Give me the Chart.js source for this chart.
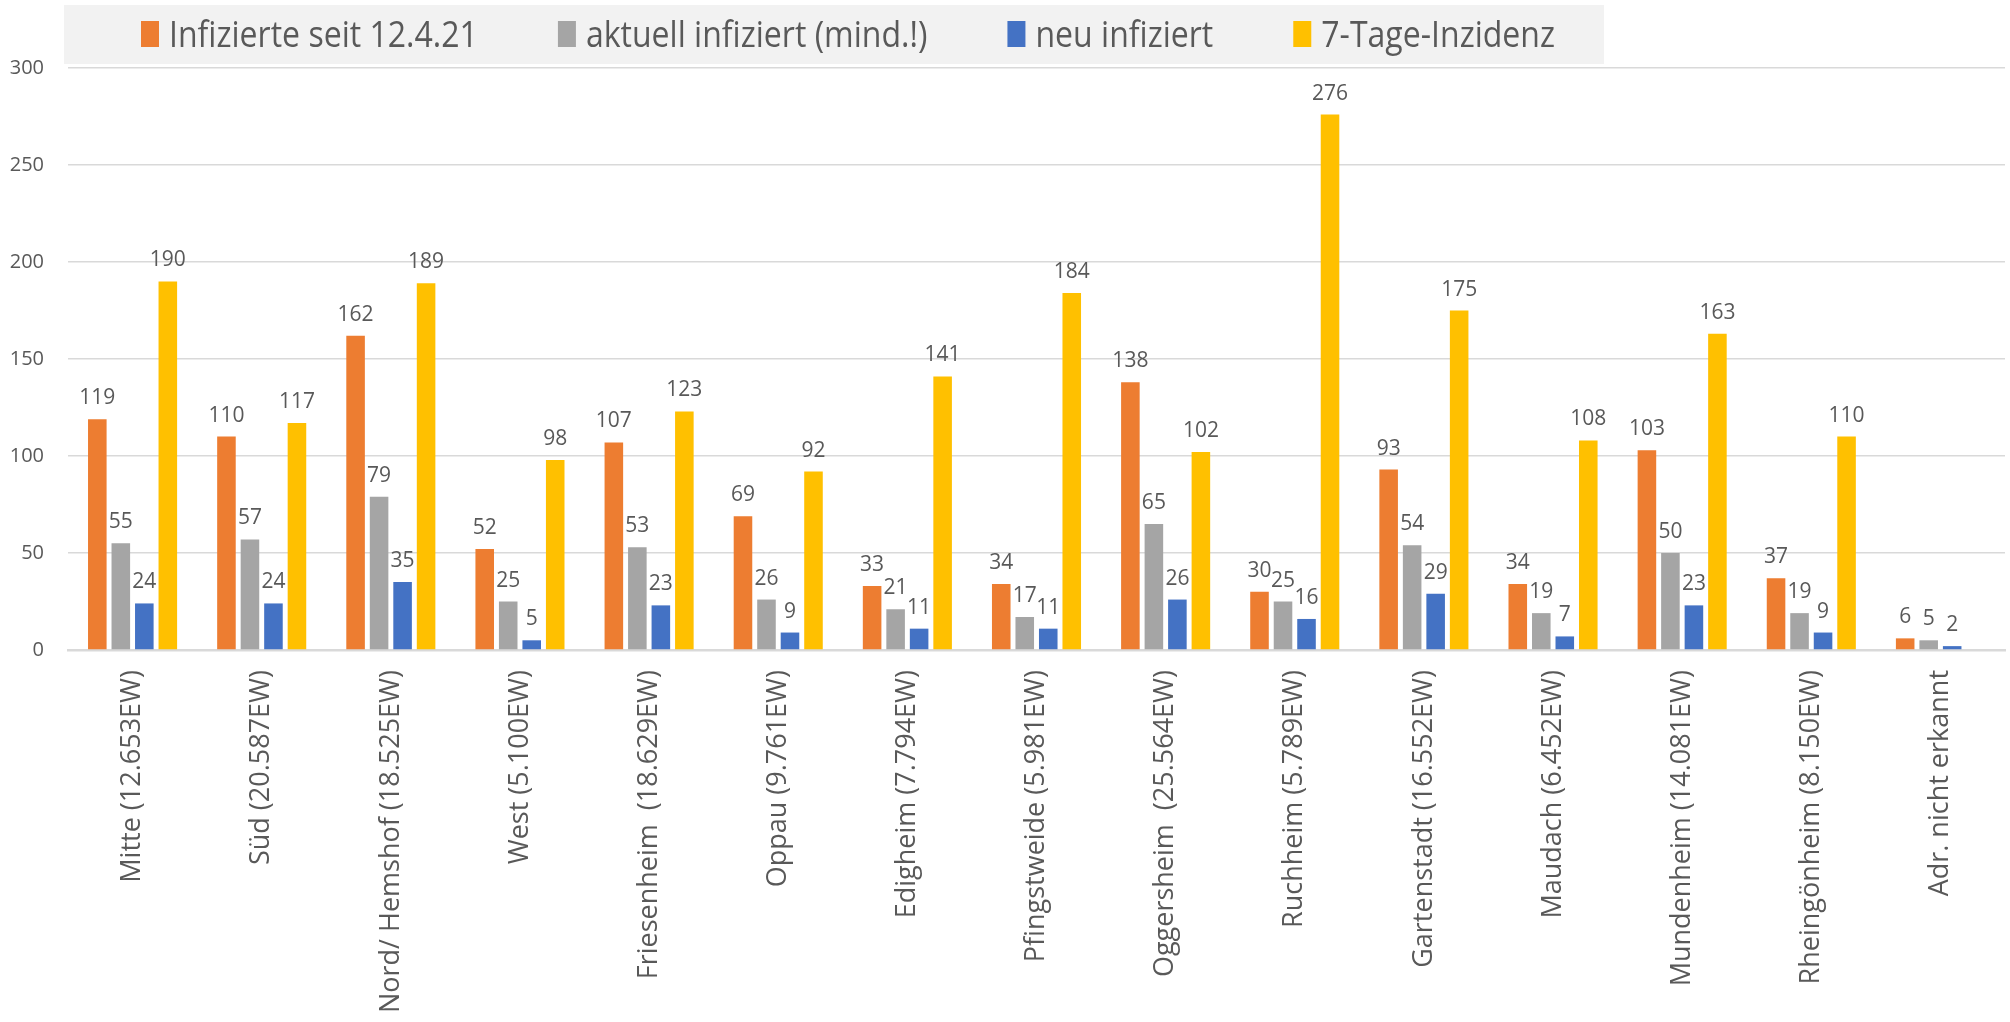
<!DOCTYPE html>
<html>
<head>
<meta charset="utf-8">
<script src="https://cdn.jsdelivr.net/npm/chart.js@4/dist/chart.umd.min.js"></script>
<style>
    html, body { margin: 0; padding: 0; background: #fff; }
    #wrap { width: 2010px; height: 1022px; position: relative; }
</style>
</head>
<body>
<div id="wrap"><canvas id="myChart"></canvas></div>
<script>
// data
const districts = [
    "Mitte (12.653EW)", "Süd (20.587EW)", "Nord/ Hemshof (18.525EW)", "West (5.100EW)",
    "Friesenheim  (18.629EW)", "Oppau (9.761EW)", "Edigheim (7.794EW)", "Pfingstweide (5.981EW)",
    "Oggersheim  (25.564EW)", "Ruchheim (5.789EW)", "Gartenstadt (16.552EW)", "Maudach (6.452EW)",
    "Mundenheim (14.081EW)", "Rheingönheim (8.150EW)", "Adr. nicht erkannt"
];
const infiziertSeit = [119, 110, 162, 52, 107, 69, 33, 34, 138, 30, 93, 34, 103, 37, 6];
const aktuellInfiziert = [55, 57, 79, 25, 53, 26, 21, 17, 65, 25, 54, 19, 50, 19, 5];
const neuInfiziert = [24, 24, 35, 5, 23, 9, 11, 11, 26, 16, 29, 7, 23, 9, 2];
const inzidenz = [190, 117, 189, 98, 123, 92, 141, 184, 102, 276, 175, 108, 163, 110, null];
const seriesNames = ["Infizierte seit 12.4.21", "aktuell infiziert (mind.!)", "neu infiziert", "7-Tage-Inzidenz"];
const seriesColors = ["#ED7D31", "#A5A5A5", "#4472C4", "#FFC000"];
const yTicks = [0, 50, 100, 150, 200, 250, 300];

const textGrey = "#595959";

// legend drawn on a grey band, like the office chart
// (no narrow font installed, so the text is squeezed a bit)
const bandLegend = {
    id: 'bandLegend',
    beforeDraw(chart) {
        let ctx = chart.ctx;
        let squeeze = 0.89;
        ctx.save();
        ctx.fillStyle = "#F2F2F2";
        ctx.fillRect(64, 5, 1540, 59);
        ctx.font = '36px "Open Sans"';
        ctx.textBaseline = 'alphabetic';
        let x = 141;
        chart.data.datasets.forEach(ds => {
            ctx.fillStyle = ds.backgroundColor;
            ctx.fillRect(x, 21, 18, 26);
            x += 28;
            ctx.fillStyle = textGrey;
            ctx.save();
            ctx.translate(x, 47);
            ctx.scale(squeeze, 1);
            ctx.fillText(ds.label, 0, 0);
            ctx.restore();
            x += ctx.measureText(ds.label).width * squeeze + 80;
        });
        ctx.restore();
    }
};

// numbers above each bar
const valueLabels = {
    id: 'valueLabels',
    afterDatasetsDraw(chart) {
        let ctx = chart.ctx;
        ctx.save();
        ctx.font = '21px "Open Sans"';
        ctx.fillStyle = textGrey;
        ctx.textAlign = 'center';
        ctx.textBaseline = 'alphabetic';
        chart.data.datasets.forEach((ds, i) => {
            chart.getDatasetMeta(i).data.forEach((bar, j) => {
                let v = ds.data[j];
                if (v == null) return;
                ctx.fillText(String(v), bar.x, bar.y - 15);
            });
        });
        ctx.restore();
    }
};

const seriesData = [infiziertSeit, aktuellInfiziert, neuInfiziert, inzidenz];

let ctx = document.getElementById('myChart').getContext('2d');
let myChart = new Chart(ctx, {
    type: 'bar',
    data: {
        labels: districts,
        datasets: seriesData.map((d, i) => ({
            label: seriesNames[i],
            data: d,
            backgroundColor: seriesColors[i],
            borderWidth: 0,
            categoryPercentage: 0.728,
            barPercentage: 0.79
        }))
    },
    options: {
        responsive: true,
        maintainAspectRatio: false,
        animation: false,
        layout: { padding: { top: 68, right: 5, left: 0, bottom: 0 } },
        plugins: {
            legend: { display: false },
            tooltip: { enabled: false }
        },
        scales: {
            x: {
                grid: { display: false, drawTicks: false },
                border: { color: "#D9D9D9", width: 2.5 },
                ticks: {
                    autoSkip: false,
                    maxRotation: 90,
                    minRotation: 90,
                    padding: 20,
                    color: textGrey,
                    font: { family: 'Open Sans', size: 27 }
                },
                afterFit(scale) { scale.height = 1022 - 650; }
            },
            y: {
                min: 0,
                max: 300,
                afterBuildTicks(scale) { scale.ticks = yTicks.map(v => ({ value: v })); },
                grid: { color: "#D9D9D9", lineWidth: 1.5, drawTicks: false },
                border: { display: false },
                ticks: {
                    padding: 24,
                    color: textGrey,
                    font: { family: 'Open Sans', size: 20 }
                },
                afterFit(scale) { scale.width = 68; }
            }
        }
    },
    plugins: [bandLegend, valueLabels]
});
</script>
</body>
</html>
